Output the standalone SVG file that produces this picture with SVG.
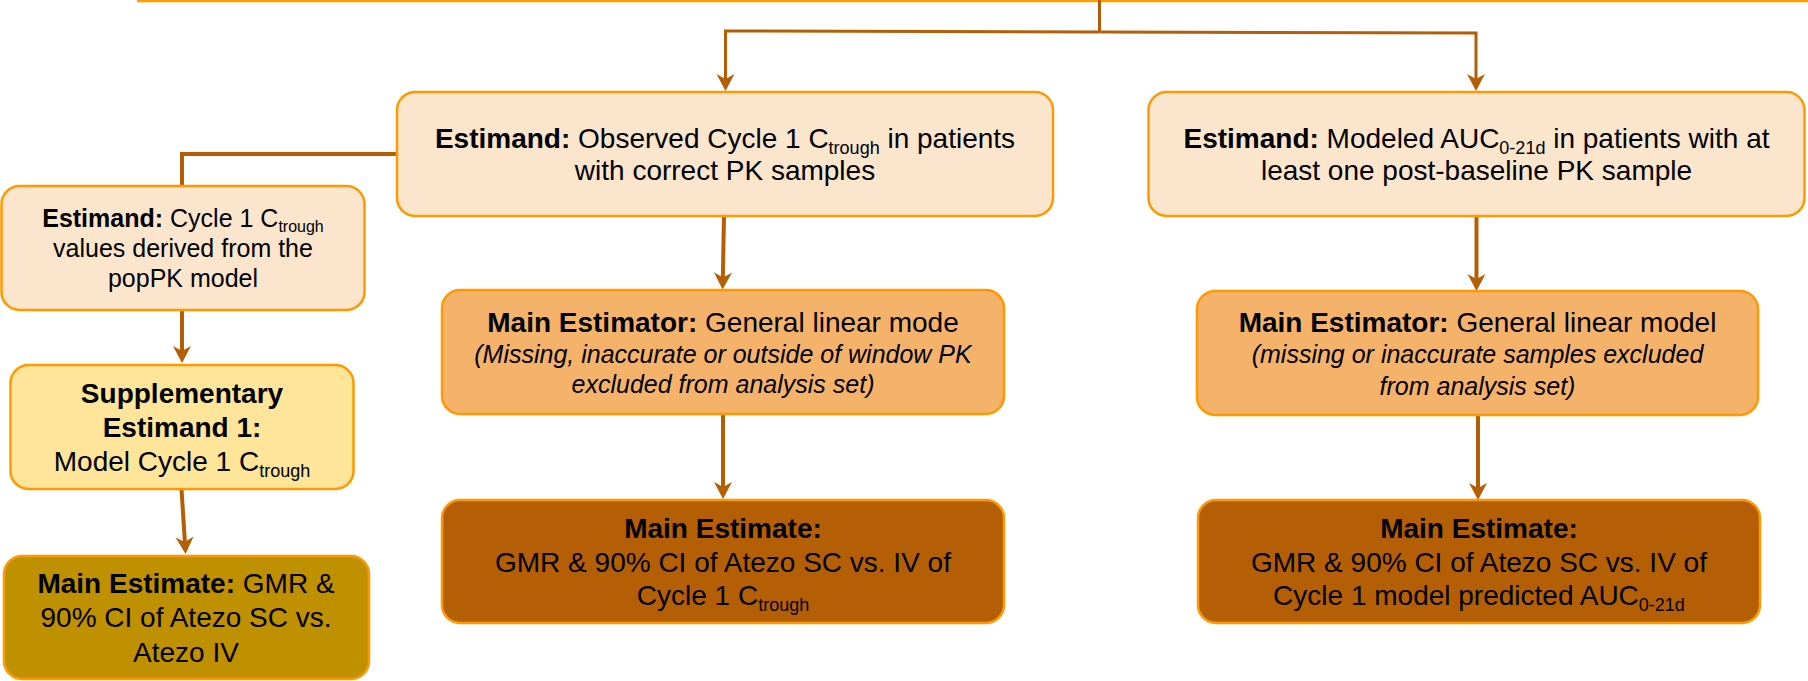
<svg xmlns="http://www.w3.org/2000/svg" width="1808" height="681" viewBox="0 0 1808 681">
  <defs>
    <style>
      .box { stroke: #FF9900; stroke-width: 2.5; }
      .est { fill: #FBE5CD; }
      .sup { fill: #FFE599; }
      .mtr { fill: #F5B26B; }
      .mte { fill: #B45F06; }
      .gold { fill: #BF9000; }
      .conn { fill: none; stroke: #B45F06; stroke-width: 4; }
      .thin { stroke-width: 3; }
      text { font-family: "Liberation Sans", Arial, sans-serif; fill: #000; text-anchor: middle; }
      .t28 { font-size: 28px; }
      .t25 { font-size: 25px; }
      .b { font-weight: bold; }
      .i { font-style: italic; font-size: 25px; }
    </style>
    <marker id="arrow" viewBox="-8 -10 20 20" refX="0" refY="0" markerWidth="20" markerHeight="20" markerUnits="userSpaceOnUse" orient="auto">
      <path d="M10,0 L-7,-9 L-2,0 L-7,9 Z" fill="#B45F06"/>
    </marker>
  </defs>

  <rect width="1808" height="681" fill="#FFFFFF"/>

  <!-- edge of the box above -->
  <line x1="137" y1="1" x2="1808" y2="1" stroke="#FFA000" stroke-width="2.5"/>

  <g id="connectors">
    <path class="conn thin" d="M1099.5,0 V32"/>
    <path class="conn thin" d="M1099.5,32 L725.5,31 V81" marker-end="url(#arrow)"/>
    <path class="conn thin" d="M1099.5,32 L1476,33 V81" marker-end="url(#arrow)"/>
    <path class="conn" d="M397,154 H182 V186"/>
    <path class="conn" d="M724,216 L722.8,279.5" marker-end="url(#arrow)"/>
    <path class="conn" d="M182,310 V353" marker-end="url(#arrow)"/>
    <path class="conn" d="M181.5,489 L185,544" marker-end="url(#arrow)"/>
    <path class="conn" d="M723,414 V489" marker-end="url(#arrow)"/>
    <path class="conn" d="M1476.5,216 V281" marker-end="url(#arrow)"/>
    <path class="conn" d="M1478,415 V490" marker-end="url(#arrow)"/>
  </g>

  <g id="estimand-observed">
    <rect class="box est" x="397" y="92" width="656" height="124" rx="18"/>
    <text class="t28" x="725" y="148"><tspan class="b">Estimand:</tspan> Observed Cycle 1 C<tspan font-size="18" dy="6">trough</tspan><tspan dy="-6"> in patients</tspan></text>
    <text class="t28" x="725" y="180">with correct PK samples</text>
  </g>

  <g id="estimand-modeled">
    <rect class="box est" x="1148.5" y="92" width="656" height="124" rx="18"/>
    <text class="t28" x="1476.5" y="148"><tspan class="b">Estimand:</tspan> Modeled AUC<tspan font-size="18" dy="6">0-21d</tspan><tspan dy="-6"> in patients with at</tspan></text>
    <text class="t28" x="1476.5" y="180">least one post-baseline PK sample</text>
  </g>

  <g id="estimand-poppk">
    <rect class="box est" x="1.5" y="186" width="363" height="124" rx="18"/>
    <text class="t25" x="183" y="227"><tspan class="b">Estimand:</tspan> Cycle 1 C<tspan font-size="16" dy="5">trough</tspan></text>
    <text class="t25" x="183" y="257">values derived from the</text>
    <text class="t25" x="183" y="287">popPK model</text>
  </g>

  <g id="supplementary-estimand">
    <rect class="box sup" x="10.5" y="365" width="343" height="124" rx="18"/>
    <text class="t28 b" x="182" y="403">Supplementary</text>
    <text class="t28 b" x="182" y="437">Estimand 1:</text>
    <text class="t28" x="182" y="471">Model Cycle 1 C<tspan font-size="18" dy="6">trough</tspan></text>
  </g>

  <g id="supplementary-estimate">
    <rect class="box gold" x="4" y="556" width="365" height="123" rx="18"/>
    <text class="t28" x="186" y="593"><tspan class="b">Main Estimate:</tspan> GMR &amp;</text>
    <text class="t28" x="186" y="627">90% CI of Atezo SC vs.</text>
    <text class="t28" x="186" y="662">Atezo IV</text>
  </g>

  <g id="estimator-observed">
    <rect class="box mtr" x="442" y="290" width="562" height="124" rx="18"/>
    <text class="t28" x="723" y="332"><tspan class="b">Main Estimator:</tspan> General linear mode</text>
    <text class="i" x="723" y="363">(Missing, inaccurate or outside of window PK</text>
    <text class="i" x="723" y="393">excluded from analysis set)</text>
  </g>

  <g id="estimate-observed">
    <rect class="box mte" x="442" y="500" width="562" height="123" rx="18"/>
    <text class="t28 b" x="723" y="538">Main Estimate:</text>
    <text class="t28" x="723" y="572">GMR &amp; 90% CI of Atezo SC vs. IV of</text>
    <text class="t28" x="723" y="605">Cycle 1 C<tspan font-size="18" dy="6">trough</tspan></text>
  </g>

  <g id="estimator-modeled">
    <rect class="box mtr" x="1197" y="291" width="561" height="124" rx="18"/>
    <text class="t28" x="1477.5" y="332"><tspan class="b">Main Estimator:</tspan> General linear model</text>
    <text class="i" x="1477.5" y="363">(missing or inaccurate samples excluded</text>
    <text class="i" x="1477.5" y="395">from analysis set)</text>
  </g>

  <g id="estimate-modeled">
    <rect class="box mte" x="1198" y="500" width="562" height="123" rx="18"/>
    <text class="t28 b" x="1479" y="538">Main Estimate:</text>
    <text class="t28" x="1479" y="572">GMR &amp; 90% CI of Atezo SC vs. IV of</text>
    <text class="t28" x="1479" y="605">Cycle 1 model predicted AUC<tspan font-size="18" dy="6">0-21d</tspan></text>
  </g>
</svg>
